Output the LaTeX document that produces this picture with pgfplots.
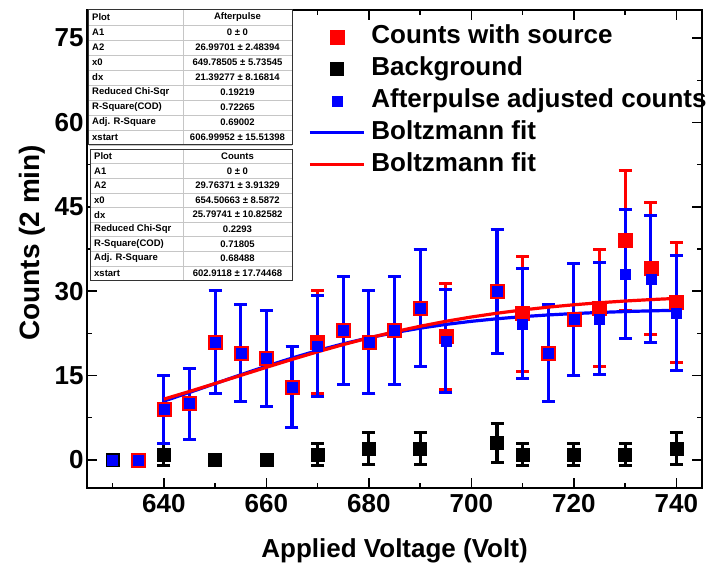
\documentclass[border=0pt]{standalone}
\usepackage{fontspec}
\setmainfont{Liberation Sans}
\usepackage{pgfplots}
\pgfplotsset{compat=1.18}

\pgfplotsset{
  mylegend/.style={legend image code/.code={\draw[##1, mark repeat=2, mark phase=2] plot coordinates {(0pt,0pt) (27pt,0pt) (54pt,0pt)};}},
  myerr/.style={error bars/.cd, y dir=both, y explicit,
     error bar style={line width=3.2pt, #1},
     error mark options={rotate=90, mark size=6.5pt, line width=3pt, #1}},
}

\begin{document}
\begin{tikzpicture}
\useasboundingbox (-87pt,-78pt) rectangle (626pt,488pt);
\begin{axis}[
  scale only axis,
  width=615pt, height=478pt,
  xmin=625, xmax=745, ymin=-5, ymax=80,
  xtick={620,640,...,760},
  ytick={0,15,...,75},
  minor x tick num=1, minor y tick num=1,
  tick align=inside,
  major tick length=10pt, minor tick length=5pt,
  every tick/.style={line width=1.5pt, black},
  axis line style={line width=2pt},
  /pgf/number format/assume math mode=true,
  tick label style={font=\fontsize{26}{30}\selectfont\bfseries},
  xticklabel style={yshift=-3pt},
  xlabel={Applied Voltage (Volt)},
  ylabel={Counts (2 min)},
  xlabel style={font=\fontsize{26}{30}\selectfont\bfseries, at={(axis description cs:0.5,0)}, anchor=center, yshift=-63pt},
  ylabel style={font=\fontsize{28}{32}\selectfont\bfseries, at={(axis description cs:-0.0894,0.513)}, anchor=center},
  legend style={at={(rel axis cs:0,1)}, anchor=north west, xshift=221pt, yshift=-13pt,
    draw=none, fill=none, inner sep=0pt, row sep=5pt, column sep=5pt,
    font=\fontsize{26}{30}\selectfont\bfseries,
    nodes={inner sep=1pt, text height=19pt, text depth=6pt}},
  legend cell align=left,
  clip=false,
]
% Counts with source (red)
\addplot[only marks, mark=square*, mark size=7pt, red, mark options={fill=red, draw=red}, mylegend, myerr=red]
  table[x index=0, y index=1, y error index=2] {
640 9  6.0
645 10 6.3
650 21 9.2
655 19 8.7
660 18 8.5
665 13 7.2
670 21 9.2
675 23 9.6
680 21 9.2
685 23 9.6
690 27 10.4
695 22 9.4
705 30 11.0
710 26 10.2
715 19 8.7
720 25 10.0
725 27 10.4
730 39 12.5
735 34 11.7
740 28 10.6
};
\addlegendentry{Counts with source}
% Background (black)
\addplot[only marks, mark=square*, mark size=6.5pt, black, mark options={fill=black, draw=black}, mylegend, myerr=black]
  table[x index=0, y index=1, y error index=2] {
640 1 2.0
670 1 2.0
680 2 2.83
690 2 2.83
705 3 3.46
710 1 2.0
720 1 2.0
730 1 2.0
740 2 2.83
};
\addlegendentry{Background}
\addplot[forget plot, only marks, mark=square*, mark size=7pt, red, mark options={fill=red, draw=red}]
  table {
635 0
};
\addplot[forget plot, only marks, mark=square*, mark size=6.5pt, black, mark options={fill=black, draw=black}]
  table {
630 0
650 0
660 0
};
% Afterpulse adjusted counts (blue)
\addplot[only marks, mark=square*, mark size=5pt, blue, mark options={fill=blue, draw=blue}, mylegend, myerr=blue]
  table[x index=0, y index=1, y error index=2] {
640 9    6.0
645 10   6.3
650 21   9.2
655 19   8.7
660 18   8.5
665 13   7.2
670 20.3 9.0
675 23   9.6
680 21   9.2
685 23   9.6
690 27   10.4
695 21.1 9.2
705 30   11.0
710 24.2 9.8
715 19   8.7
720 25   10.0
725 25.1 10.0
730 33   11.5
735 32.1 11.3
740 26.1 10.2
};
\addlegendentry{Afterpulse adjusted counts}
\addplot[forget plot, only marks, mark=square*, mark size=5pt, blue, mark options={fill=blue, draw=blue}]
  table {
630 0
635 0
};
% Boltzmann fits
\addplot[blue, line width=3.2pt, no marks, mylegend] table {
640 10.46
645 11.995
650 13.566
655 15.135
660 16.661
665 18.105
670 19.440
675 20.645
680 21.709
685 22.633
690 23.423
695 24.087
700 24.641
705 25.097
710 25.471
715 25.775
720 26.020
725 26.218
730 26.377
735 26.503
740 26.605
};
\addlegendentry{Boltzmann fit}
\addplot[red, line width=3.2pt, no marks, mylegend] table {
640 10.804
645 12.171
650 13.585
655 15.024
660 16.460
665 17.868
670 19.221
675 20.501
680 21.690
685 22.778
690 23.761
695 24.637
700 25.409
705 26.081
710 26.663
715 27.162
720 27.585
725 27.945
730 28.250
735 28.504
740 28.718
};
\addlegendentry{Boltzmann fit}
\end{axis}
% Fit result tables
\begin{scope}[shift={(2pt,478pt)}, font=\fontsize{9.5}{11}\selectfont\bfseries]
  \fill[white] (0,0) rectangle (203pt,-135pt);
  \foreach \lab/\val [count=\i] in {Plot/Afterpulse, A1/0 ± 0, A2/26.99701 ± 2.48394, x0/649.78505 ± 5.73545, dx/21.39277 ± 8.16814, Reduced Chi-Sqr/0.19219, R-Square(COD)/0.72265, Adj. R-Square/0.69002, xstart/606.99952 ± 15.51398} {
    \node[anchor=west, inner sep=0pt] at (3pt, {-(\i-0.5)*15pt}) {\lab};
    \node[anchor=center, inner sep=0pt] at (148.5pt, {-(\i-0.5)*15pt}) {\val};
    \draw[gray!45, line width=0.6pt] (0pt, {-\i*15pt}) -- (203pt, {-\i*15pt});
  }
  \draw[gray!45, line width=0.6pt] (94pt,0pt) -- (94pt,-135pt);
  \draw[black!80, line width=1pt] (0,0) rectangle (203pt,-135pt);
\end{scope}
\begin{scope}[shift={(4pt,339pt)}, font=\fontsize{9.5}{11}\selectfont\bfseries]
  \fill[white] (0,0) rectangle (201pt,-131.4pt);
  \foreach \lab/\val [count=\i] in {Plot/Counts, A1/0 ± 0, A2/29.76371 ± 3.91329, x0/654.50663 ± 8.5872, dx/25.79741 ± 10.82582, Reduced Chi-Sqr/0.2293, R-Square(COD)/0.71805, Adj. R-Square/0.68488, xstart/602.9118 ± 17.74468} {
    \node[anchor=west, inner sep=0pt] at (3pt, {-(\i-0.5)*14.6pt}) {\lab};
    \node[anchor=center, inner sep=0pt] at (146.5pt, {-(\i-0.5)*14.6pt}) {\val};
    \draw[gray!45, line width=0.6pt] (0pt, {-\i*14.6pt}) -- (201pt, {-\i*14.6pt});
  }
  \draw[gray!45, line width=0.6pt] (92pt,0pt) -- (92pt,-131.4pt);
  \draw[black!80, line width=1pt] (0,0) rectangle (201pt,-131.4pt);
\end{scope}
\end{tikzpicture}
\end{document}
